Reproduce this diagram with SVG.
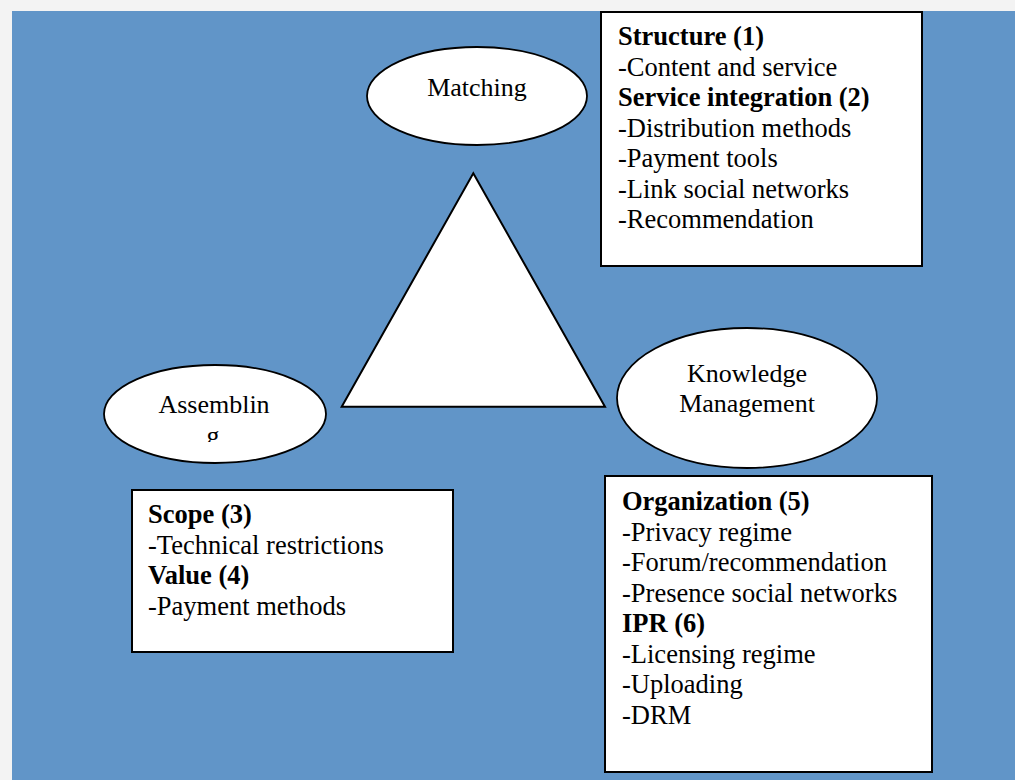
<svg xmlns="http://www.w3.org/2000/svg" width="1015" height="780" viewBox="0 0 1015 780">
  <style>
    .shape { fill: #ffffff; stroke: #000000; stroke-width: 2; }
    .ell { fill: #ffffff; stroke: #000000; stroke-width: 1.8; }
    .t { font-family: "Liberation Serif", "Times New Roman", serif; font-size: 26.5px; fill: #000000; }
    .b { font-weight: bold; }
    .et { font-family: "Liberation Serif", "Times New Roman", serif; font-size: 26px; fill: #000000; text-anchor: middle; }
  </style>
  <defs>
    <clipPath id="gclip">
      <rect x="190" y="420" width="50" height="22"/>
    </clipPath>
  </defs>
  <rect x="0" y="0" width="1015" height="780" fill="#f3f3f3"/>
  <rect x="12" y="11" width="1003" height="769" fill="#6195c8"/>

  <g id="connectors"/>

  <g id="triangle">
    <polygon class="shape" stroke-width="1.6" points="473.3,173.3 605,406.7 341.7,406.7"/>
  </g>

  <g id="matching">
    <ellipse class="ell" cx="477" cy="96" rx="110" ry="49"/>
    <text class="et" x="477" y="96">Matching</text>
  </g>

  <g id="assembling">
    <ellipse class="ell" cx="215" cy="414" rx="111" ry="49"/>
    <text class="et" x="214" y="413">Assemblin</text>
    <text class="et" x="213" y="444" clip-path="url(#gclip)">g</text>
  </g>

  <g id="knowledge-management">
    <ellipse class="ell" cx="747" cy="398" rx="130" ry="70"/>
    <text class="et" x="747" y="382">Knowledge</text>
    <text class="et" x="747" y="412">Management</text>
  </g>

  <g id="box-matching">
    <rect class="shape" x="601" y="12" width="321" height="254"/>
    <text class="t b" x="618" y="45">Structure (1)</text>
    <text class="t" x="618" y="75.5">-Content and service</text>
    <text class="t b" x="618" y="106">Service integration (2)</text>
    <text class="t" x="618" y="136.5">-Distribution methods</text>
    <text class="t" x="618" y="167">-Payment tools</text>
    <text class="t" x="618" y="197.5">-Link social networks</text>
    <text class="t" x="618" y="228">-Recommendation</text>
  </g>

  <g id="box-assembling">
    <rect class="shape" x="132" y="490" width="321" height="162"/>
    <text class="t b" x="148" y="523">Scope (3)</text>
    <text class="t" x="148" y="553.5">-Technical restrictions</text>
    <text class="t b" x="148" y="584">Value (4)</text>
    <text class="t" x="148" y="614.5">-Payment methods</text>
  </g>

  <g id="box-knowledge">
    <rect class="shape" x="605" y="476" width="327" height="296"/>
    <text class="t b" x="622" y="510">Organization (5)</text>
    <text class="t" x="622" y="540.5">-Privacy regime</text>
    <text class="t" x="622" y="571">-Forum/recommendation</text>
    <text class="t" x="622" y="601.5">-Presence social networks</text>
    <text class="t b" x="622" y="632">IPR (6)</text>
    <text class="t" x="622" y="662.5">-Licensing regime</text>
    <text class="t" x="622" y="693">-Uploading</text>
    <text class="t" x="622" y="723.5">-DRM</text>
  </g>
</svg>
